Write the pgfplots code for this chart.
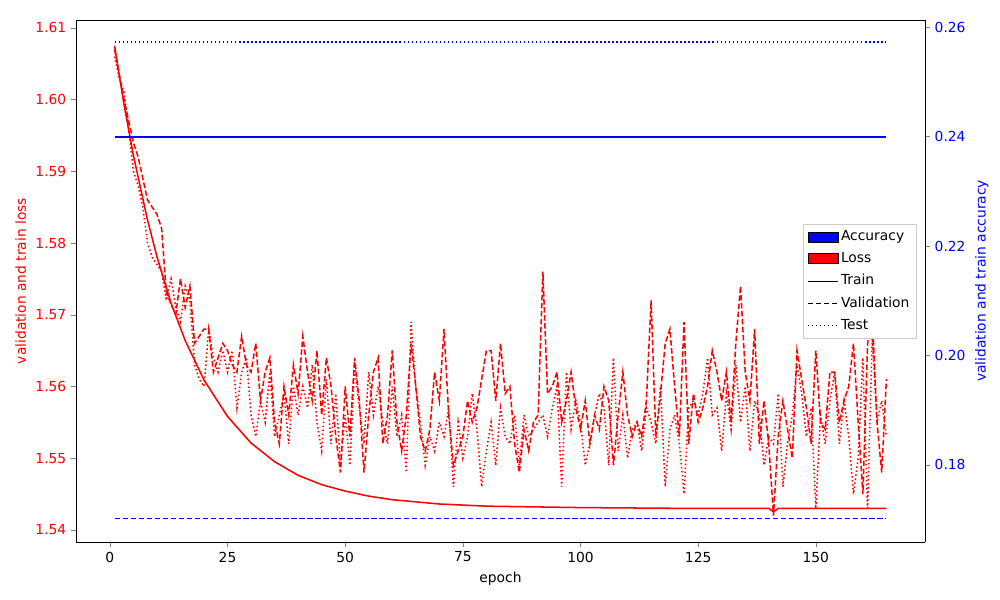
\documentclass[border=0pt]{standalone}
\usepackage{pgfplots}
\pgfplotsset{compat=1.18}
\usepackage{fontspec}
\setmainfont{DejaVu Sans}
\begin{document}
\begin{tikzpicture}
\useasboundingbox (-0.76in,-0.58in) rectangle (9.24in,5.42in);
\tikzset{mpldash/.style={dash pattern=on 4pt off 1.8pt},mpldot/.style={dash pattern=on 1.1pt off 1.8pt},lw/.style={line width=1.1pt}}
\pgfplotsset{every axis/.style={width=8.49in,height=5.22in,scale only axis,
  xmin=-7.2,xmax=173.2, /pgf/number format/assume math mode=true,
  tick label style={font=\fontsize{10}{12}\selectfont}, label style={font=\fontsize{10}{12}\selectfont},
  tick align=outside, major tick length=3.5pt}}
\begin{axis}[at={(0,0)},anchor=south west,
  ymin=1.5383,ymax=1.6111, ytick={1.54,1.55,1.56,1.57,1.58,1.59,1.60,1.61},
  yticklabel style={red,/pgf/number format/fixed,/pgf/number format/precision=2,/pgf/number format/fixed zerofill},
  xtick={0,25,50,75,100,125,150}, xlabel={epoch}, ylabel={validation and train loss}, ylabel style={red},
  axis y line*=left, axis x line*=bottom, xtick pos=bottom, ytick pos=left]
\addplot[draw=red,lw] coordinates {(1,1.6075)(3,1.5993)(5,1.5922)(8,1.5832)(10,1.5781)(13,1.5716)(16,1.5664)(20,1.5609)(25,1.5558)(30,1.5521)(35,1.5495)(40,1.5476)(45,1.5463)(50,1.5454)(55,1.5447)(60,1.5442)(70,1.5436)(80,1.5433)(100,1.5431)(120,1.5430)(140,1.5430)(141,1.5425)(142,1.5430)(165,1.5430)};
\addplot[draw=red,lw,mpldash] coordinates {(1,1.607)(3,1.600)(5,1.594)(6,1.592)(8,1.586)(10,1.584)(11,1.582)(12,1.573)(14,1.570)(15,1.575)(16,1.571)(17,1.574)(18,1.566)(20,1.568)(21,1.568)(22,1.562)(23,1.564)(24,1.566)(25,1.565)(26,1.563)(27,1.562)(28,1.567)(29,1.563)(30,1.562)(31,1.566)(32,1.558)(33,1.562)(34,1.564)(35,1.555)(36,1.552)(37,1.560)(38,1.556)(39,1.563)(40,1.559)(41,1.567)(42,1.562)(43,1.558)(44,1.565)(45,1.556)(46,1.564)(47,1.560)(48,1.553)(49,1.548)(50,1.560)(51,1.553)(52,1.564)(53,1.558)(54,1.548)(55,1.556)(56,1.562)(57,1.564)(58,1.552)(59,1.556)(60,1.565)(61,1.555)(62,1.551)(63,1.556)(64,1.566)(65,1.560)(66,1.553)(67,1.551)(68,1.554)(69,1.562)(70,1.558)(71,1.568)(72,1.556)(73,1.549)(74,1.551)(75,1.553)(76,1.558)(77,1.555)(78,1.557)(79,1.561)(80,1.565)(81,1.565)(82,1.558)(83,1.566)(84,1.559)(85,1.560)(86,1.552)(87,1.548)(88,1.554)(89,1.551)(90,1.555)(91,1.556)(92,1.576)(93,1.559)(94,1.560)(95,1.562)(96,1.555)(97,1.558)(98,1.562)(99,1.557)(100,1.554)(101,1.558)(102,1.552)(103,1.556)(104,1.554)(105,1.560)(106,1.558)(107,1.549)(108,1.556)(109,1.562)(110,1.556)(111,1.553)(112,1.555)(113,1.553)(114,1.558)(115,1.572)(116,1.553)(117,1.559)(118,1.566)(119,1.568)(120,1.560)(121,1.553)(122,1.569)(123,1.552)(124,1.559)(125,1.555)(126,1.557)(127,1.560)(128,1.565)(129,1.562)(130,1.558)(131,1.562)(132,1.555)(133,1.566)(134,1.574)(135,1.562)(136,1.558)(137,1.568)(138,1.552)(139,1.558)(140,1.552)(141,1.542)(142,1.553)(143,1.558)(144,1.554)(145,1.550)(146,1.565)(147,1.561)(148,1.557)(149,1.552)(150,1.565)(151,1.555)(152,1.554)(153,1.562)(154,1.562)(155,1.555)(156,1.558)(157,1.560)(158,1.566)(159,1.555)(160,1.545)(161,1.566)(162,1.570)(163,1.555)(164,1.548)(165,1.561)};
\addplot[draw=red,lw,mpldot] coordinates {(1,1.606)(2,1.603)(3,1.601)(4,1.596)(5,1.590)(6,1.588)(7,1.585)(8,1.580)(9,1.578)(10,1.577)(11,1.576)(12,1.572)(13,1.575)(14,1.571)(15,1.569)(16,1.574)(17,1.572)(18,1.563)(19,1.561)(20,1.560)(21,1.568)(22,1.564)(23,1.562)(24,1.565)(25,1.562)(26,1.565)(27,1.557)(28,1.562)(29,1.564)(30,1.556)(31,1.553)(32,1.558)(33,1.555)(34,1.562)(35,1.553)(36,1.556)(37,1.559)(38,1.552)(39,1.560)(40,1.556)(41,1.560)(42,1.557)(43,1.563)(44,1.555)(45,1.551)(46,1.561)(47,1.552)(48,1.559)(49,1.549)(50,1.556)(51,1.549)(52,1.563)(53,1.557)(54,1.552)(55,1.562)(56,1.556)(57,1.560)(58,1.555)(59,1.552)(60,1.560)(61,1.553)(62,1.556)(63,1.548)(64,1.569)(65,1.560)(66,1.555)(67,1.549)(68,1.553)(69,1.551)(70,1.555)(71,1.553)(72,1.557)(73,1.546)(74,1.555)(75,1.550)(76,1.553)(77,1.559)(78,1.554)(79,1.546)(80,1.551)(81,1.555)(82,1.549)(83,1.557)(84,1.553)(85,1.552)(86,1.556)(87,1.549)(88,1.556)(89,1.553)(90,1.554)(91,1.555)(92,1.556)(93,1.553)(94,1.557)(95,1.560)(96,1.546)(97,1.562)(98,1.554)(99,1.558)(100,1.555)(101,1.549)(102,1.552)(103,1.556)(104,1.559)(105,1.557)(106,1.549)(107,1.564)(108,1.551)(109,1.556)(110,1.550)(111,1.554)(112,1.555)(113,1.551)(114,1.557)(115,1.555)(116,1.552)(117,1.560)(118,1.546)(119,1.554)(120,1.556)(121,1.552)(122,1.545)(123,1.557)(124,1.558)(125,1.556)(126,1.559)(127,1.564)(128,1.556)(129,1.557)(130,1.551)(131,1.559)(132,1.554)(133,1.563)(134,1.555)(135,1.560)(136,1.551)(137,1.558)(138,1.556)(139,1.549)(140,1.553)(141,1.552)(142,1.559)(143,1.546)(144,1.552)(145,1.556)(146,1.563)(147,1.559)(148,1.553)(149,1.557)(150,1.543)(151,1.556)(152,1.552)(153,1.558)(154,1.562)(155,1.552)(156,1.558)(157,1.553)(158,1.545)(159,1.550)(160,1.564)(161,1.543)(162,1.567)(163,1.555)(164,1.558)(165,1.553)};
\end{axis}
\begin{axis}[at={(0,0)},anchor=south west,
  ymin=0.1659,ymax=0.2613, ytick={0.18,0.20,0.22,0.24,0.26},
  yticklabel style={blue,/pgf/number format/fixed,/pgf/number format/precision=2,/pgf/number format/fixed zerofill},
  ylabel={validation and train accuracy}, ylabel style={blue},
  axis y line*=right, axis x line*=top, xtick=\empty, ytick pos=right,
  legend style={at={(0.99,0.5)},anchor=east,font=\fontsize{10}{12}\selectfont,draw=black!20,row sep=3pt,inner sep=3pt},
  legend image code/.code={\draw[#1] (0cm,0cm) -- (0.3in,0cm);},
  legend cell align=left]
\addlegendimage{legend image code/.code={\draw[fill=blue,draw=black] (0cm,-0.05in) rectangle (0.3in,0.05in);}}\addlegendentry{Accuracy}
\addlegendimage{legend image code/.code={\draw[fill=red,draw=black] (0cm,-0.05in) rectangle (0.3in,0.05in);}}\addlegendentry{Loss}
\addlegendimage{draw=black}\addlegendentry{Train}
\addlegendimage{draw=black,mpldash}\addlegendentry{Validation}
\addlegendimage{draw=black,mpldot,line width=0.6pt}\addlegendentry{Test}
\addplot[draw=blue,lw,forget plot] coordinates {(1,0.2399)(165,0.2399)};
\addplot[draw=blue,lw,mpldash,forget plot] coordinates {(1,0.1702)(165,0.1702)};
\addplot[draw=blue,lw,mpldot,forget plot] coordinates {(1,0.2573)(165,0.2573)};
\end{axis}
\end{tikzpicture}
\end{document}
